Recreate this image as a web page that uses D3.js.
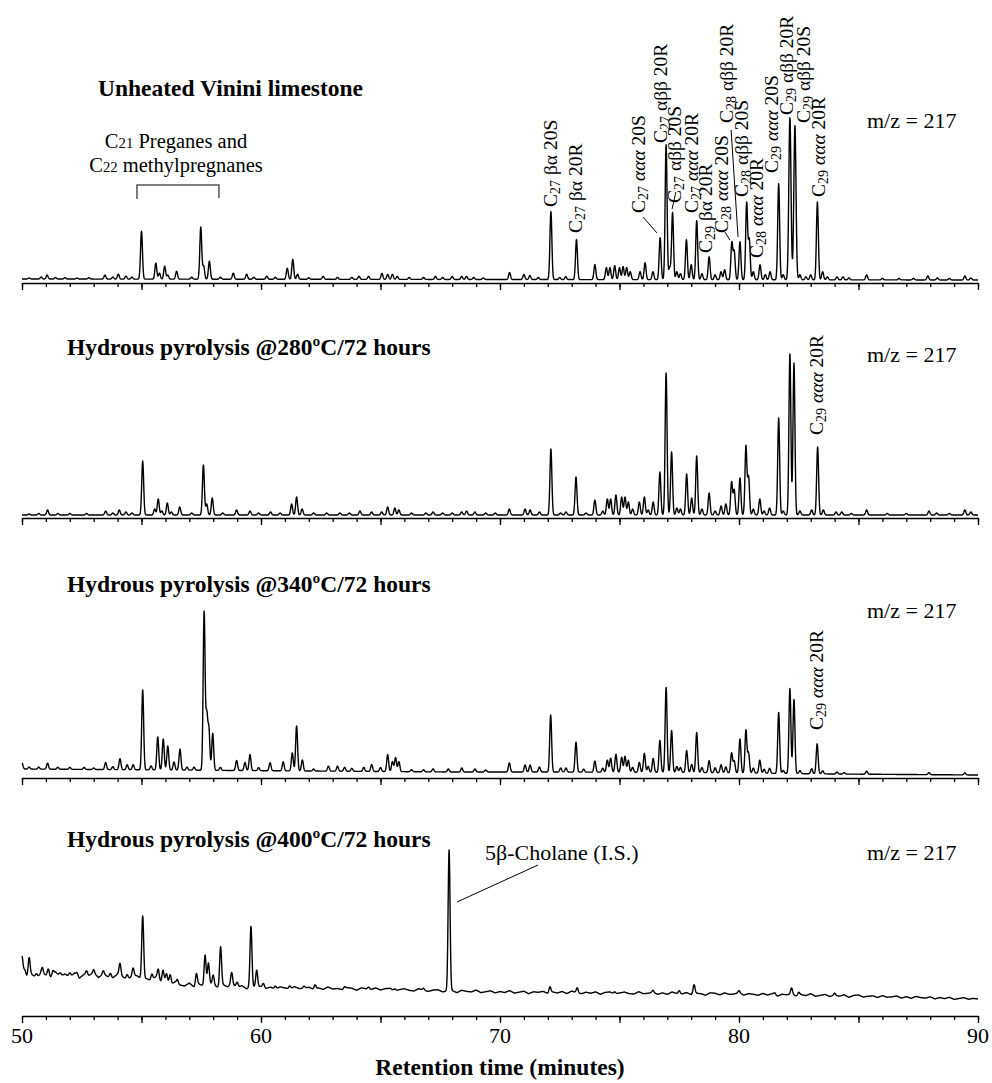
<!DOCTYPE html>
<html>
<head>
<meta charset="utf-8">
<script src="https://cdn.jsdelivr.net/npm/d3@7"></script>
<style>
  body { margin: 0; background: #fff; }
  svg { display: block; }
</style>
</head>
<body>
<div id="chart"></div>
<script>
// retention time range (minutes) and tick sets
const timeDomain = [50, 90];
const minorTicks = d3.range(50, 91, 1);
const majorTicks = d3.range(50, 91, 5);
const labelTicks = [50, 60, 70, 80, 90];

const panelTitles = [
  "Unheated Vinini limestone",
  "Hydrous pyrolysis @280ºC/72 hours",
  "Hydrous pyrolysis @340ºC/72 hours",
  "Hydrous pyrolysis @400ºC/72 hours"
];
const ionLabel = "m/z = 217";

// peaks: [retention time, intensity, optional width]
const peaksUnheated = [
  [50.3,1],[50.8,2],[51.05,4],[51.4,1.5],[51.8,1.5],[52.3,1],[52.8,1.5],[53.47,4],[53.8,2],[54.03,5],[54.35,3],[54.6,2],
  [55.0,48],[55.6,16],[55.75,6],[55.97,13],[56.1,4],[56.47,8],[57.1,2],[57.48,52],[57.6,13],[57.84,18],[58.3,2],[58.84,6],
  [59.4,5],[59.7,2],[60.24,3],[60.6,2],[61.1,11],[61.33,20],[61.53,5],[62.0,1.5],[62.6,3],[63.2,2],[63.8,2],[64.1,3],[64.5,3],
  [65.06,6],[65.3,5],[65.5,5],[65.7,3],[66.2,2],[66.8,2],[67.3,3],[67.6,2],[68.0,3],[68.4,3],[68.6,3],[68.9,2],[69.3,1.5],
  [70.4,7],[71.0,5],[71.25,4],[71.6,2],[72.13,68],[72.5,2],[72.75,3],[73.2,40],[73.97,15],[74.45,12],[74.6,12],[74.8,14],
  [75.0,12],[75.15,13],[75.3,12],[75.45,8],[75.86,8],[76.07,17],[76.4,8],[76.7,42],[76.95,135],[77.1,12],[77.22,67],[77.4,8],
  [77.55,6],[77.8,40],[78.0,15],[78.23,59],[78.45,6],[78.75,23],[79.0,5],[79.25,8],[79.4,10],[79.7,37],[79.8,28],[80.04,38],
  [80.32,77],[80.43,40],[80.6,8],[80.88,15],[81.1,5],[81.3,8],[81.66,96],[81.85,5],[82.13,162,0.045],[82.34,154,0.045],[82.55,5],
  [82.8,3],[83.0,5],[83.28,78],[83.5,8],[83.7,3],[84.1,3],[84.35,3],[84.6,2],[85.34,5],[86.0,1.5],[86.7,1.5],[87.3,1.5],
  [87.9,4],[88.3,2],[88.8,1.5],[89.45,4],[89.7,2]
];
const peaks280 = [
  [50.3,1],[50.7,1.5],[51.07,5],[51.5,1.5],[52.0,1.5],[52.7,1.5],[53.5,4],[53.8,2],[54.07,5],[54.35,3],[54.6,2],[55.05,54],
  [55.55,6],[55.7,16],[55.85,4],[56.08,12],[56.25,3],[56.6,8],[57.1,2],[57.59,50],[57.73,11],[57.96,17],[58.4,2],[58.98,5],
  [59.54,4],[59.9,2],[60.4,3],[60.8,2],[61.28,11],[61.49,18],[61.72,6],[62.2,2],[62.75,2],[63.3,2],[63.7,2],[64.14,4],[64.63,3],
  [65.05,3],[65.3,8],[65.6,7],[65.77,5],[66.3,2],[66.9,2],[67.2,3],[67.6,2],[68.0,2],[68.4,3],[68.6,4],[68.95,3],[69.4,2],[69.8,2],
  [70.39,6],[71.05,6],[71.26,5],[71.65,3],[72.13,66],[72.54,2],[72.76,3],[73.18,38],[73.6,2],[73.97,15],[74.3,4],[74.49,16],
  [74.63,16],[74.85,20],[75.09,18],[75.23,18],[75.37,13],[75.55,6],[75.83,13],[76.04,18],[76.2,5],[76.41,13],[76.69,43],
  [76.95,142],[77.18,63],[77.4,7],[77.55,6],[77.81,41],[78.02,17],[78.23,59],[78.45,6],[78.75,22],[79.0,4],[79.25,9],[79.45,11],
  [79.69,33],[79.8,25],[80.04,37],[80.29,69],[80.4,38],[80.6,6],[80.87,16],[81.05,4],[81.28,7],[81.66,97],[81.85,4],[82.13,161],
  [82.3,152],[82.55,4],[83.04,5],[83.29,68],[83.53,5],[84.06,3],[84.3,3],[84.7,1.5],[85.34,5],[86.2,1.5],[87.0,1.5],[87.95,4],
  [88.27,2],[88.8,1.5],[89.45,5],[89.7,3]
];
const peaks340 = [
  [50.0,6],[50.3,2],[50.7,2],[51.07,6],[51.5,2],[52.0,2],[52.6,2],[53.0,1.5],[53.5,7],[53.8,3],[54.1,11],[54.4,5],[54.65,5],
  [55.05,80],[55.4,4],[55.68,33],[55.91,31],[56.1,24],[56.36,8],[56.61,21],[56.9,3],[57.2,3],[57.62,158],[57.73,54],[57.82,40],
  [57.98,37],[58.3,3],[58.98,10],[59.33,8],[59.54,16],[59.9,3],[60.38,8],[60.93,9],[61.31,18],[61.49,45],[61.73,11],[62.2,2],
  [62.82,5],[63.2,5],[63.5,4],[63.8,3],[64.3,4],[64.63,7],[65.0,4],[65.3,17],[65.5,10],[65.63,14],[65.77,10],[66.3,2],[66.8,2],
  [67.2,3],[67.84,3],[68.4,4],[68.95,3],[69.4,2],
  [70.39,9],[71.05,7],[71.26,7],[71.65,5],[72.12,57],[72.54,4],[72.76,4],[73.18,30],[73.5,3],[73.97,11],[74.3,4],[74.49,12],
  [74.63,14],[74.85,18],[75.09,15],[75.23,16],[75.37,12],[75.55,5],[75.83,10],[76.04,19],[76.2,6],[76.41,14],[76.69,32],
  [76.95,85],[77.18,42],[77.4,6],[77.55,5],[77.81,22],[78.02,8],[78.23,40],[78.45,5],[78.75,12],[79.0,5],[79.25,8],[79.45,6],
  [79.69,20],[79.8,12],[80.04,34],[80.29,43],[80.4,20],[80.6,5],[80.87,13],[81.05,4],[81.28,5],[81.66,61],[81.85,3],[82.13,85],
  [82.3,74],[82.55,3],[83.04,5],[83.27,30],[83.5,3],[84.1,2],[84.4,1.5],[85.34,3],[87.95,2],[89.45,2]
];
const peaks400 = [
  [50.0,14],[50.12,4],[50.3,18],[50.6,4],[50.85,6],[51.1,7],[51.3,4],[51.6,3],[52.0,4],[52.3,3],[52.7,4],[53.0,3],[53.4,3],
  [53.7,4],[54.1,12],[54.4,5],[54.65,8],[55.05,63],[55.43,6],[55.7,10],[55.9,11],[56.05,8],[56.2,10],[56.5,4],[57.3,12],
  [57.66,30],[57.8,20],[58.0,10],[58.31,39],[58.77,12],[59.0,5],[59.58,60],[59.82,17],[60.1,4],[60.6,3],[61.2,3],[61.8,2],
  [62.26,4],[63.5,2],[64.5,2],[65.6,2],[66.8,2],[67.87,141],[72.09,6],[73.23,5],[74.8,2],[76.4,2],[77.5,3],[78.12,9],[80.0,2],
  [81.5,2],[82.2,6],[82.5,3],[84.0,2]
];

// baseline drift: [retention time, level]
const baseUnheated = [[50,1],[90,0]];
const base280 = [[50,0],[90,0]];
const base340 = [[50,6],[56,5],[62,4],[68,3],[72,3],[78,2.5],[84,1],[90,0]];
const base400 = [[50,40],[50.3,38],[52,38],[54,37],[55.5,34],[56.6,28],[58,28],[59.5,26],[61,25],[65,24],[67.8,22],
  [70,21],[75,20],[80,19],[85,17],[90,14]];

// baseline noise of the 400ºC run, one value every 0.2 min from 50 to 90
const noise400 = [
  3,-2,1,-3,2,0,-2,3,-1,1, -2,2,-3,1,0,3,-2,2,-1,-2, 2,0,-3,1,2,-1,0,-2,3,-1, 1,-2,2,0,-1,2,-2,1,-1,2,
  0,-2,1,-1,2,-1,1,-2,1,0, 1,-1,0.5,-1.5,1,0,-1,1.5,-0.5,0, 1,-1,0.5,-1,1.5,-0.5,0,-1,1,0.5,
  -1.5,1,0,-0.5,1,-1,0.5,1,-1.5,0, 1,-0.5,-1,1.5,0,-1,0.5,1,-1,0, 0.5,-1.5,1,0,-0.5,1.5,-1,0,1,-1,
  0.5,-0.5,1.5,-1,0,1,-1.5,0.5,0,1, -1,0.5,-0.5,1,-1,1.5,0,-1,0.5,-0.5, 1,-1.5,0.5,1,-1,0,1,-0.5,-1,1.5,
  -0.5,0,1,-1,0.5,-1,1.5,0,-0.5,1, -1,0.5,0,-1.5,1,0.5,-1,1,-0.5,0, 1.5,-1,0.5,0,-1,1,-0.5,1,-1.5,0.5,
  0,1,-1,0.5,-0.5,1.5,-1,0,1,-1, 0.5,-0.5,1,-1.5,0.5,1,-1,0,0.5,-1, 1,-0.5,0,1,-1,0.5,-1,1,0,-0.5,
  1,-1,0.5,-0.5,1,-1,0,1,-0.5,0.5, 0
];

// peak annotations of the unheated sample: text, retention time of text baseline, bottom of text
const peakLabels = [
  ["C_27 βα 20S", 72.40, 207],
  ["C_27 βα 20R", 73.45, 233],
  ["C_27 ~ααα~ 20S", 76.05, 213],
  ["C_27 αββ 20R", 76.98, 143],
  ["C_27 αββ 20S", 77.57, 203],
  ["C_27 ~ααα~ 20R", 78.28, 213],
  ["C_29 βα 20R", 78.86, 253],
  ["C_28 ~ααα~ 20S", 79.53, 233],
  ["C_28 αββ 20R", 79.74, 123],
  ["C_28 αββ 20S", 80.37, 197],
  ["C_28 ~ααα~ 20R", 81.00, 258],
  ["C_29 ~ααα~ 20S", 81.62, 173],
  ["C_29 αββ 20R", 82.25, 115],
  ["C_29 αββ 20S", 82.96, 123],
  ["C_29 ~ααα~ 20R", 83.59, 197]
];
const leaders = [[75.98,217,76.57,233],[77.36,192,77.20,209],[79.41,232,79.62,240],[79.67,130,79.96,237]];

const width = 992, height = 1083;
const fontSerif = "'Liberation Serif', 'Times New Roman', Times, serif";

const x = d3.scaleLinear().domain(timeDomain).range([22, 978]);

const panels = [
  {peaks: peaksUnheated, base: baseUnheated, noise: null, axisY: 283, titleX: 98, titleY: 96, mzY: 128},
  {peaks: peaks280, base: base280, noise: null, axisY: 518, titleX: 67, titleY: 355, mzY: 362},
  {peaks: peaks340, base: base340, noise: null, axisY: 778, titleX: 67, titleY: 592, mzY: 618},
  {peaks: peaks400, base: base400, noise: noise400, axisY: 1016, titleX: 67, titleY: 847, mzY: 860}
];

const svg = d3.select("#chart").append("svg")
  .attr("width", width)
  .attr("height", height)
  .attr("viewBox", [0, 0, width, height])
  .attr("font-family", fontSerif);

const grid = d3.range(50, 90.0001, 0.01);
const noiseScale = d3.scaleLinear().domain(noise400.map((d, i) => 50 + 0.2 * i)).range(noise400);

panels.forEach((p, i) => {
  const y = d3.scaleLinear().domain([0, 100]).range([p.axisY - 3, p.axisY - 103]);
  const baseScale = d3.scaleLinear().domain(p.base.map(d => d[0])).range(p.base.map(d => d[1])).clamp(true);

  const signal = t => {
    let v = baseScale(t) + (p.noise ? noiseScale(t) : 0);
    for (const [t0, h, s0] of p.peaks) {
      const s = s0 || 0.04;
      const z = (t - t0) / s;
      if (Math.abs(z) < 6) v += h * Math.exp(-0.5 * z * z);
    }
    return v;
  };

  const g = svg.append("g");

  // axis: minor + major ticks pointing down
  g.append("g")
    .attr("transform", `translate(0,${p.axisY})`)
    .call(d3.axisBottom(x).tickValues(minorTicks).tickSize(4).tickSizeOuter(0).tickFormat(""))
    .call(a => a.selectAll("path,line").attr("stroke", "#000").attr("stroke-width", 1.3));
  g.append("g")
    .attr("transform", `translate(0,${p.axisY})`)
    .call(d3.axisBottom(x).tickValues(majorTicks).tickSize(7).tickSizeOuter(0).tickFormat(""))
    .call(a => a.select(".domain").remove())
    .call(a => a.selectAll("line").attr("stroke", "#000").attr("stroke-width", 1.3));

  const line = d3.line().x(t => x(t)).y(t => y(signal(t)));
  g.append("path")
    .datum(grid)
    .attr("d", line)
    .attr("fill", "none")
    .attr("stroke", "#000")
    .attr("stroke-width", 1.4)
    .attr("stroke-linejoin", "round");

  g.append("text")
    .attr("x", p.titleX).attr("y", p.titleY)
    .attr("font-weight", "bold").attr("font-size", 23.5)
    .text(panelTitles[i]);

  g.append("text")
    .attr("x", 867).attr("y", p.mzY)
    .attr("font-size", 22)
    .text(ionLabel);
});

// rich label helper: "_27" subscript, "~ααα~" italic
function richText(sel, str) {
  const parts = str.split(/(_\d+|~[^~]+~)/).filter(s => s.length);
  let shifted = false;
  parts.forEach(s => {
    const ts = sel.append("tspan");
    if (s[0] === "_") {
      ts.attr("font-size", "0.72em").attr("dy", 3).text(s.slice(1));
      shifted = true;
    } else {
      if (shifted) { ts.attr("dy", -3); shifted = false; }
      if (s[0] === "~") ts.attr("font-style", "italic").text(s.slice(1, -1));
      else ts.text(s);
    }
  });
}

const ann = svg.append("g");

peakLabels.forEach(([txt, t, yb]) => {
  ann.append("text")
    .attr("transform", `translate(${x(t)},${yb}) rotate(-90)`)
    .attr("font-size", 19.5)
    .call(richText, txt);
});

// 280 and 340 runs: C29 ααα 20R
[[435], [730]].forEach(([yb]) => {
  ann.append("text")
    .attr("transform", `translate(${x(83.53)},${yb}) rotate(-90)`)
    .attr("font-size", 19.5)
    .call(richText, "C_29 ~ααα~ 20R");
});

ann.selectAll("line.leader")
  .data(leaders)
  .join("line")
  .attr("class", "leader")
  .attr("x1", d => x(d[0])).attr("y1", d => d[1])
  .attr("x2", d => x(d[2])).attr("y2", d => d[3])
  .attr("stroke", "#000").attr("stroke-width", 1);

// pregnane group and bracket
ann.append("text").attr("x", 176).attr("y", 148).attr("text-anchor", "middle").attr("font-size", 20.5)
  .call(sel => { sel.append("tspan").text("C"); sel.append("tspan").attr("font-size", "0.72em").text("21"); sel.append("tspan").text(" Preganes and"); });
ann.append("text").attr("x", 176).attr("y", 172).attr("text-anchor", "middle").attr("font-size", 20.5)
  .call(sel => { sel.append("tspan").text("C"); sel.append("tspan").attr("font-size", "0.72em").text("22"); sel.append("tspan").text(" methylpregnanes"); });
ann.append("path")
  .attr("d", `M${x(54.81)},199V185H${x(58.24)}V198`)
  .attr("fill", "none").attr("stroke", "#555").attr("stroke-width", 1.5);

// internal standard
ann.append("text").attr("x", 485).attr("y", 860).attr("font-size", 22).text("5β-Cholane (I.S.)");
ann.append("line")
  .attr("x1", x(71.59)).attr("y1", 865).attr("x2", x(68.2)).attr("y2", 902)
  .attr("stroke", "#000").attr("stroke-width", 1);

// bottom tick labels and axis title
svg.append("g")
  .selectAll("text")
  .data(labelTicks)
  .join("text")
  .attr("x", d => x(d)).attr("y", 1043)
  .attr("text-anchor", "middle").attr("font-size", 22)
  .text(d => d);

svg.append("text")
  .attr("x", x(70)).attr("y", 1075)
  .attr("text-anchor", "middle").attr("font-weight", "bold").attr("font-size", 23.5)
  .text("Retention time (minutes)");
</script>
